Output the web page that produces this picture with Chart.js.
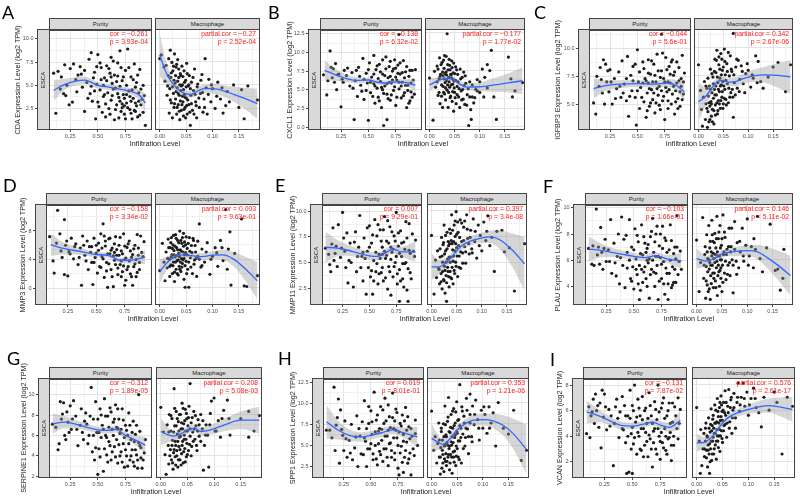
<!DOCTYPE html>
<html>
<head>
<meta charset="utf-8">
<script src="https://cdn.jsdelivr.net/npm/chart.js@4.4.0/dist/chart.umd.min.js"></script>
<style>
  body { margin:0; background:#fff; }
  #fig { position:relative; width:800px; height:498px; overflow:hidden; font-family:'Liberation Sans', Arial, sans-serif; }
  #fig canvas { position:absolute; }
  .strip { position:absolute; box-sizing:border-box; background:#d9d9d9; border:1px solid #444; color:#1a1a1a; font-size:6px; display:flex; align-items:center; justify-content:center; white-space:nowrap; }
  .strip span.rot { display:inline-block; transform:rotate(-90deg); }
  .lbl { position:absolute; white-space:nowrap; }
  .letter { font-family:Lato, 'Liberation Sans', sans-serif; font-size:18px; line-height:18px; color:#000; }
  .ytitle { font-size:7.2px; line-height:8px; height:8px; color:#222; text-align:center; transform:rotate(-90deg); }
  .xtitle { font-size:7.2px; line-height:8px; color:#222; text-align:center; }
  .stat { font-size:6.8px; line-height:7.4px; color:#ff1a1a; text-align:right; }
</style>
</head>
<body>
<div id="fig"></div>
<script>
// ---- data ----
const panelLetters = ['A','B','C','D','E','F','G','H','I'];
const geneNames = ['CDA','CXCL1','IGFBP3','MMP3','MMP11','PLAU','SERPINE1','SPP1','VCAN'];
const facetNames = ['Purity','Macrophage'];

const purityXTicks = ['0.25','0.50','0.75'];
const macrophageXTicks = ['0.00','0.05','0.10','0.15'];
const purityXRange = [0.058, 0.99];
const macrophageXRange = [-0.009, 0.19];

const yTickLabels = [
  ['2.5','5.0','7.5','10.0'],
  ['0.0','2.5','5.0','7.5','10.0','12.5'],
  ['5.0','7.5','10.0'],
  ['0','4','8'],
  ['2.5','5.0','7.5','10.0'],
  ['4','6','8','10'],
  ['2','4','6','8','10'],
  ['2.5','5.0','7.5','10.0','12.5'],
  ['2','4','6','8']
];
const yRanges = [[0.2,10.96],[-0.4,13.03],[2.66,11.7],[-2.37,11.67],[0.84,10.65],[2.58,10.23],[1.84,11.54],[1.14,12.89],[0.74,8.49]];

const corValues = ['\u22120.261','\u22120.138','\u22120.044','\u22120.158','0.007','\u22120.103','\u22120.312','0.019','\u22120.131'];
const corP = ['3.93e-04','6.32e-02','5.6e-01','3.34e-02','9.29e-01','1.66e-01','1.89e-05','8.01e-01','7.87e-02'];
const partialValues = ['\u22120.27','\u22120.177','0.342','0.003','0.397','0.146','0.208','0.353','0.576'];
const partialP = ['2.52e-04','1.77e-02','2.67e-06','9.63e-01','3.4e-08','5.11e-02','5.08e-03','1.21e-06','2.61e-17'];

// points [infiltration, expression]
const cdaPurity = [[0.10,6.3],[0.12,2.0],[0.14,6.5],[0.16,4.6],[0.17,5.9],[0.19,4.1],[0.20,7.2],[0.21,3.9],[0.22,5.0],[0.24,2.9],[0.25,6.8],[0.27,3.2],[0.28,7.3],[0.30,5.6],[0.32,6.1],[0.34,7.0],[0.36,4.8],[0.38,2.2],[0.38,6.6],[0.40,5.3],[0.42,7.8],[0.43,4.1],[0.44,8.5],[0.45,3.3],[0.47,6.4],[0.48,1.4],[0.49,5.1],[0.50,8.3],[0.51,2.7],[0.52,4.5],[0.53,6.9],[0.55,3.8],[0.56,5.8],[0.57,1.6],[0.58,7.1],[0.59,4.2],[0.60,2.5],[0.61,6.3],[0.62,3.4],[0.63,5.2],[0.64,7.6],[0.65,1.3],[0.66,4.7],[0.67,2.9],[0.68,6.0],[0.69,3.7],[0.70,8.7],[0.71,2.2],[0.72,5.5],[0.73,4.0],[0.74,1.9],[0.75,6.6],[0.76,3.1],[0.77,8.9],[0.78,4.4],[0.79,2.4],[0.80,5.9],[0.81,1.4],[0.82,3.6],[0.83,7.3],[0.84,4.8],[0.85,2.8],[0.86,6.1],[0.87,3.3],[0.88,1.8],[0.89,4.6],[0.91,2.1],[0.92,3.9],[0.93,0.7],[0.62,5.9],[0.68,4.1],[0.74,2.8],[0.55,5.0],[0.47,4.4],
  [0.46,5.8],[0.50,3.2],[0.52,7.4],[0.54,2.1],[0.56,4.0],[0.58,5.5],[0.60,6.8],[0.61,1.9],[0.63,3.9],[0.64,4.6],[0.65,6.1],[0.66,2.4],[0.67,5.4],[0.69,1.5],[0.70,4.9],[0.71,6.9],[0.72,3.0],[0.73,5.9],[0.74,3.6],[0.75,1.4],[0.76,5.0],[0.77,2.6],[0.78,6.9],[0.79,3.8],[0.80,2.0],[0.81,4.5],[0.82,5.6],[0.83,2.3],[0.84,3.1],[0.85,5.3],[0.86,1.6],[0.87,4.2],[0.88,6.7],[0.89,2.9],[0.90,3.5],[0.91,5.0],[0.57,3.0],[0.53,5.6],[0.49,7.0],[0.44,4.9],[0.41,3.6],[0.35,6.2],[0.31,4.3],[0.62,8.0],[0.68,7.4],[0.72,2.6],[0.76,4.0],[0.80,3.3],[0.84,2.2],[0.70,3.3]];
const cdaMacrophage = [[0.000,7.8],[0.003,8.2],[0.008,6.9],[0.010,5.4],[0.012,7.1],[0.014,3.9],[0.016,6.0],[0.018,2.0],[0.019,4.6],[0.020,8.7],[0.021,5.8],[0.022,3.1],[0.023,7.4],[0.024,1.5],[0.025,6.5],[0.026,4.1],[0.027,2.6],[0.028,8.3],[0.029,5.2],[0.030,3.5],[0.031,6.9],[0.032,1.9],[0.033,4.7],[0.034,7.7],[0.035,2.9],[0.036,5.8],[0.037,3.9],[0.038,1.3],[0.039,6.2],[0.040,4.4],[0.041,2.3],[0.042,7.0],[0.043,5.0],[0.044,3.2],[0.045,1.7],[0.046,6.5],[0.047,4.0],[0.048,2.6],[0.049,5.5],[0.050,3.6],[0.051,7.3],[0.052,1.9],[0.054,4.9],[0.055,2.9],[0.056,6.0],[0.058,0.7],[0.059,3.9],[0.060,5.3],[0.062,2.3],[0.064,4.4],[0.066,6.7],[0.068,3.2],[0.070,1.5],[0.072,5.1],[0.075,2.6],[0.077,4.1],[0.080,6.1],[0.082,2.1],[0.084,3.5],[0.086,7.8],[0.088,4.7],[0.090,1.9],[0.093,5.6],[0.097,3.2],[0.100,4.6],[0.105,2.5],[0.110,5.3],[0.115,3.5],[0.120,2.0],[0.128,4.3],[0.132,3.2],[0.140,5.0],[0.150,2.6],[0.160,1.4],[0.167,4.9],[0.185,3.4],[0.155,4.5],
  [0.015,4.9],[0.017,7.8],[0.020,3.4],[0.022,6.3],[0.024,4.8],[0.026,7.0],[0.027,5.5],[0.028,3.0],[0.030,6.0],[0.031,4.3],[0.032,7.2],[0.033,2.6],[0.034,5.4],[0.035,4.1],[0.036,6.7],[0.037,2.2],[0.038,5.0],[0.039,3.3],[0.040,6.0],[0.041,4.9],[0.042,2.9],[0.043,3.8],[0.044,5.9],[0.045,4.5],[0.046,2.4],[0.047,5.3],[0.048,3.7],[0.049,1.5],[0.050,4.8],[0.051,2.8],[0.052,6.2],[0.053,3.4],[0.055,5.0],[0.057,2.1],[0.058,4.6],[0.060,3.0],[0.063,5.8],[0.065,1.9],[0.067,4.0],[0.069,2.8],[0.071,4.8],[0.074,3.6],[0.078,5.5],[0.081,4.2],[0.085,2.6],[0.092,4.0],[0.098,5.0],[0.108,3.8],[0.118,4.7],[0.125,2.8]];
const cxcl1Purity = [[0.09,7.0],[0.12,4.3],[0.13,6.2],[0.15,10.2],[0.16,8.0],[0.18,7.8],[0.19,6.0],[0.20,8.5],[0.21,5.0],[0.23,7.1],[0.25,2.7],[0.26,6.4],[0.28,7.6],[0.30,6.9],[0.33,5.5],[0.35,7.3],[0.37,1.0],[0.38,6.2],[0.40,4.1],[0.41,8.0],[0.43,5.6],[0.45,9.2],[0.46,3.7],[0.48,7.2],[0.49,5.9],[0.50,0.9],[0.51,8.6],[0.52,4.6],[0.53,6.7],[0.55,9.6],[0.56,3.2],[0.57,7.7],[0.58,5.2],[0.59,4.0],[0.60,8.4],[0.61,6.1],[0.62,2.6],[0.63,7.1],[0.64,0.2],[0.65,5.5],[0.66,9.4],[0.67,1.0],[0.67,4.4],[0.68,6.6],[0.69,8.1],[0.70,3.6],[0.71,5.9],[0.72,7.5],[0.73,4.9],[0.74,9.0],[0.75,2.9],[0.76,6.3],[0.77,8.3],[0.78,12.4],[0.78,5.1],[0.79,7.1],[0.80,3.9],[0.81,6.0],[0.82,8.9],[0.83,4.6],[0.84,7.4],[0.85,2.6],[0.86,5.6],[0.87,6.8],[0.88,3.5],[0.89,4.7],[0.90,7.6],[0.92,4.4],[0.63,5.0],[0.70,6.8],[0.55,5.8],[0.75,7.9],
  [0.46,6.4],[0.48,4.9],[0.50,7.7],[0.52,6.0],[0.54,4.1],[0.55,7.1],[0.56,5.5],[0.58,8.2],[0.59,6.5],[0.60,3.5],[0.61,7.4],[0.62,5.3],[0.63,9.0],[0.64,4.5],[0.65,6.9],[0.66,7.8],[0.67,5.8],[0.68,3.8],[0.69,6.0],[0.70,8.8],[0.71,4.3],[0.72,6.3],[0.73,7.8],[0.74,5.4],[0.75,6.7],[0.76,4.0],[0.77,7.2],[0.78,6.0],[0.79,8.6],[0.80,5.5],[0.81,7.3],[0.82,4.2],[0.83,6.6],[0.84,5.6],[0.85,8.1],[0.86,4.9],[0.87,3.2],[0.88,7.6],[0.89,5.9],[0.90,4.0],[0.91,6.3],[0.93,7.7],[0.42,6.8],[0.44,4.8],[0.39,7.6],[0.36,5.2],[0.31,7.9],[0.27,6.0],[0.22,7.0],[0.17,6.6]];
const cxcl1Macrophage = [[0.000,6.5],[0.007,0.9],[0.010,7.4],[0.012,5.3],[0.015,8.1],[0.017,4.2],[0.019,6.4],[0.020,9.2],[0.021,3.1],[0.022,7.0],[0.024,5.6],[0.025,8.6],[0.026,2.6],[0.027,6.8],[0.028,4.6],[0.029,7.8],[0.030,9.5],[0.031,5.9],[0.032,3.6],[0.033,7.3],[0.034,6.2],[0.035,12.4],[0.035,4.9],[0.036,8.3],[0.037,2.6],[0.038,6.6],[0.039,9.0],[0.040,5.3],[0.041,7.6],[0.042,4.1],[0.043,6.9],[0.044,8.8],[0.045,3.4],[0.046,5.7],[0.047,7.2],[0.048,2.1],[0.049,6.1],[0.050,4.6],[0.052,8.0],[0.053,3.1],[0.055,5.4],[0.056,7.0],[0.058,4.0],[0.060,2.6],[0.062,6.4],[0.064,3.6],[0.066,5.0],[0.068,7.3],[0.070,3.0],[0.072,5.8],[0.075,4.3],[0.078,0.2],[0.080,6.0],[0.082,2.3],[0.083,1.0],[0.085,4.0],[0.088,3.2],[0.092,5.0],[0.095,6.3],[0.100,4.6],[0.105,7.7],[0.108,4.0],[0.110,6.6],[0.115,8.3],[0.120,7.5],[0.123,10.2],[0.128,4.0],[0.133,1.0],[0.157,9.3],[0.162,6.4],[0.165,4.0],[0.170,4.8],[0.185,5.9],
  [0.015,6.0],[0.017,7.7],[0.019,4.6],[0.021,6.7],[0.023,8.3],[0.024,4.1],[0.026,7.3],[0.027,5.4],[0.028,8.9],[0.029,6.4],[0.030,4.4],[0.031,7.1],[0.032,5.2],[0.033,9.4],[0.034,6.9],[0.036,5.6],[0.037,7.6],[0.038,4.6],[0.039,6.0],[0.040,8.2],[0.041,3.9],[0.042,7.0],[0.043,5.6],[0.044,6.5],[0.045,7.9],[0.046,4.7],[0.047,6.3],[0.048,8.5],[0.049,5.2],[0.050,7.1],[0.051,3.9],[0.052,6.2],[0.054,7.6],[0.055,4.3],[0.057,6.0],[0.059,5.1],[0.061,7.7],[0.063,4.8],[0.065,6.6],[0.067,3.7],[0.069,5.5],[0.071,6.8],[0.074,2.9],[0.077,5.1],[0.080,4.0],[0.085,5.6],[0.090,3.9],[0.095,4.8],[0.100,6.0],[0.115,5.2]];
const igfbp3Purity = [[0.10,5.1],[0.12,4.1],[0.13,7.5],[0.15,6.6],[0.16,8.3],[0.18,6.0],[0.19,9.0],[0.20,5.0],[0.21,8.6],[0.22,7.0],[0.24,6.1],[0.25,8.1],[0.27,5.0],[0.29,7.3],[0.31,6.4],[0.33,7.9],[0.35,5.6],[0.36,8.9],[0.38,6.8],[0.40,5.3],[0.41,9.3],[0.42,3.9],[0.44,7.6],[0.45,6.2],[0.46,8.4],[0.48,5.6],[0.49,3.1],[0.50,9.9],[0.51,7.0],[0.52,4.6],[0.53,6.5],[0.55,8.8],[0.56,5.2],[0.57,7.3],[0.58,3.8],[0.59,6.0],[0.60,9.0],[0.61,4.8],[0.62,7.7],[0.63,6.3],[0.64,5.4],[0.65,8.6],[0.66,4.2],[0.67,7.0],[0.68,9.5],[0.69,5.8],[0.70,6.6],[0.71,4.5],[0.72,11.3],[0.72,8.0],[0.73,5.3],[0.74,7.3],[0.75,3.6],[0.76,9.2],[0.77,6.1],[0.78,4.6],[0.79,8.4],[0.80,6.9],[0.81,5.0],[0.82,9.0],[0.83,7.6],[0.84,4.1],[0.85,6.2],[0.86,8.8],[0.87,5.5],[0.88,7.1],[0.89,4.8],[0.90,6.6],[0.91,9.4],[0.92,5.9],[0.93,7.8],[0.60,6.9],[0.78,7.0],
  [0.46,7.1],[0.48,8.6],[0.50,6.2],[0.52,7.9],[0.54,5.6],[0.55,6.9],[0.56,8.2],[0.58,7.1],[0.59,4.4],[0.60,7.8],[0.61,6.4],[0.62,5.1],[0.63,8.9],[0.64,7.0],[0.65,6.0],[0.66,7.6],[0.67,5.1],[0.68,6.4],[0.69,8.0],[0.70,4.9],[0.71,7.4],[0.72,6.2],[0.73,9.6],[0.74,5.7],[0.75,7.0],[0.76,6.5],[0.77,8.1],[0.78,5.3],[0.79,6.3],[0.80,7.7],[0.81,8.8],[0.82,5.9],[0.83,6.6],[0.84,7.9],[0.85,5.2],[0.86,6.9],[0.87,4.6],[0.88,8.3],[0.89,6.1],[0.90,7.3],[0.91,5.4],[0.92,7.0],[0.43,5.7],[0.40,7.3],[0.37,6.0],[0.34,6.6],[0.30,5.5],[0.26,7.0],[0.23,8.0],[0.17,7.2]];
const igfbp3Macrophage = [[0.000,8.5],[0.004,6.2],[0.006,4.5],[0.008,3.0],[0.010,5.6],[0.012,7.0],[0.014,3.6],[0.015,5.0],[0.017,6.4],[0.018,2.9],[0.019,4.3],[0.020,5.7],[0.021,3.4],[0.022,6.6],[0.023,4.8],[0.024,8.1],[0.025,5.2],[0.026,3.9],[0.027,6.0],[0.028,4.5],[0.029,7.4],[0.030,5.5],[0.031,3.2],[0.032,6.3],[0.033,9.0],[0.034,4.9],[0.035,7.8],[0.036,5.8],[0.037,9.8],[0.038,4.1],[0.039,6.9],[0.040,5.3],[0.041,8.5],[0.042,6.1],[0.043,7.3],[0.044,4.6],[0.045,9.5],[0.046,6.7],[0.047,5.6],[0.048,8.0],[0.049,7.0],[0.050,5.0],[0.052,9.9],[0.053,6.3],[0.054,7.6],[0.055,5.4],[0.057,8.6],[0.058,6.8],[0.060,5.1],[0.062,7.5],[0.064,9.3],[0.065,6.0],[0.067,7.9],[0.069,5.6],[0.070,11.3],[0.070,3.8],[0.072,6.9],[0.075,8.3],[0.078,6.4],[0.080,8.9],[0.083,7.2],[0.086,8.4],[0.090,6.8],[0.095,7.7],[0.100,8.0],[0.105,6.5],[0.110,7.3],[0.115,9.3],[0.120,8.8],[0.125,7.0],[0.130,6.4],[0.140,7.4],[0.150,8.3],[0.160,8.7],[0.175,6.1],[0.185,8.5],
  [0.015,6.6],[0.017,4.6],[0.019,7.3],[0.021,5.1],[0.023,3.6],[0.024,6.3],[0.026,5.0],[0.027,7.7],[0.028,3.4],[0.030,6.8],[0.031,4.4],[0.032,7.9],[0.033,5.8],[0.034,4.0],[0.035,6.6],[0.036,8.9],[0.037,5.1],[0.038,7.4],[0.039,4.4],[0.040,6.3],[0.041,9.2],[0.042,5.0],[0.043,8.1],[0.044,6.6],[0.045,5.3],[0.046,7.6],[0.047,9.0],[0.048,6.1],[0.049,4.6],[0.050,8.3],[0.051,6.6],[0.052,5.5],[0.053,8.8],[0.055,7.1],[0.056,4.9],[0.058,7.9],[0.060,9.6],[0.061,6.4],[0.063,5.6],[0.066,8.1],[0.068,6.3],[0.071,7.6],[0.074,5.8],[0.077,9.0],[0.082,6.1],[0.088,7.9],[0.093,6.0],[0.098,8.6],[0.108,7.6],[0.118,6.9]];
const mmp3Purity = [[0.09,7.2],[0.12,3.8],[0.13,2.1],[0.15,6.3],[0.16,10.9],[0.18,7.6],[0.20,4.3],[0.22,9.6],[0.22,1.9],[0.23,6.0],[0.25,1.7],[0.26,5.1],[0.28,7.0],[0.30,4.1],[0.32,6.2],[0.34,3.3],[0.36,5.6],[0.37,0.4],[0.38,7.3],[0.40,4.6],[0.42,6.6],[0.43,2.6],[0.45,5.0],[0.46,3.6],[0.47,0.5],[0.48,7.0],[0.49,4.3],[0.50,6.0],[0.51,2.1],[0.52,5.3],[0.53,3.0],[0.54,7.6],[0.55,4.4],[0.56,9.0],[0.57,1.5],[0.58,5.9],[0.59,3.6],[0.60,0.1],[0.61,6.9],[0.62,4.8],[0.63,2.6],[0.64,5.6],[0.65,0.2],[0.66,3.9],[0.67,7.2],[0.68,4.6],[0.69,1.9],[0.70,6.0],[0.71,3.3],[0.72,5.2],[0.73,2.3],[0.74,7.6],[0.75,4.0],[0.76,1.1],[0.77,5.7],[0.78,3.0],[0.79,6.6],[0.80,2.0],[0.81,4.3],[0.82,0.4],[0.83,5.5],[0.84,3.4],[0.85,1.6],[0.86,7.5],[0.87,4.6],[0.88,2.6],[0.90,5.0],[0.92,6.5],[0.66,5.0],[0.72,3.8],
  [0.46,5.8],[0.48,3.6],[0.50,4.9],[0.52,6.3],[0.54,2.9],[0.55,5.6],[0.56,4.1],[0.58,6.6],[0.59,2.4],[0.60,4.8],[0.61,3.4],[0.62,7.0],[0.63,5.3],[0.64,1.6],[0.65,4.5],[0.66,6.2],[0.67,3.3],[0.68,5.4],[0.69,2.8],[0.70,4.6],[0.71,7.1],[0.72,1.6],[0.73,4.8],[0.74,3.1],[0.75,5.9],[0.76,4.2],[0.77,2.6],[0.78,6.2],[0.79,3.8],[0.80,5.2],[0.81,1.6],[0.82,4.7],[0.83,3.0],[0.84,6.0],[0.85,4.0],[0.86,2.2],[0.87,5.6],[0.88,3.6],[0.89,7.3],[0.91,4.4],[0.44,5.8],[0.41,3.8],[0.39,6.0],[0.35,4.3],[0.31,5.8],[0.27,4.8],[0.24,6.6],[0.19,5.2],[0.57,7.3],[0.75,0.4]];
const mmp3Macrophage = [[0.000,2.4],[0.005,6.2],[0.008,3.6],[0.010,1.0],[0.012,5.0],[0.014,2.8],[0.016,6.8],[0.018,4.0],[0.019,1.6],[0.020,5.6],[0.021,3.2],[0.022,7.0],[0.023,4.6],[0.024,2.0],[0.025,6.0],[0.026,3.6],[0.027,5.2],[0.028,0.9],[0.029,4.3],[0.030,7.4],[0.031,2.6],[0.032,5.6],[0.033,3.8],[0.034,6.6],[0.035,1.8],[0.036,4.8],[0.037,3.0],[0.038,7.9],[0.039,5.3],[0.040,2.3],[0.041,4.1],[0.042,6.2],[0.043,3.4],[0.044,5.0],[0.045,7.6],[0.046,1.2],[0.047,4.6],[0.048,0.1],[0.049,6.0],[0.050,3.7],[0.052,5.5],[0.053,2.6],[0.055,0.1],[0.056,7.0],[0.058,4.2],[0.060,5.9],[0.062,2.0],[0.064,6.6],[0.066,3.9],[0.068,5.0],[0.070,1.6],[0.072,4.4],[0.075,8.9],[0.078,2.9],[0.080,5.4],[0.085,3.6],[0.090,6.3],[0.095,1.9],[0.100,4.4],[0.105,5.6],[0.110,3.0],[0.115,6.6],[0.120,3.8],[0.125,10.9],[0.128,2.6],[0.130,5.4],[0.133,7.8],[0.135,0.4],[0.142,4.8],[0.155,9.6],[0.160,0.3],[0.165,0.2],[0.185,1.7],
  [0.015,4.1],[0.017,5.6],[0.019,3.0],[0.021,6.3],[0.022,4.3],[0.024,5.5],[0.025,3.1],[0.026,7.3],[0.027,4.6],[0.028,2.2],[0.029,5.8],[0.030,3.6],[0.031,6.9],[0.032,4.5],[0.033,2.0],[0.034,5.3],[0.035,3.9],[0.036,6.3],[0.037,4.4],[0.038,2.6],[0.039,3.6],[0.040,6.6],[0.041,5.1],[0.042,2.9],[0.043,7.0],[0.044,3.9],[0.045,5.8],[0.046,4.1],[0.047,6.4],[0.048,3.1],[0.049,4.9],[0.050,7.1],[0.051,2.0],[0.052,4.6],[0.054,6.2],[0.055,3.6],[0.057,5.1],[0.059,2.9],[0.061,4.9],[0.063,6.9],[0.065,3.3],[0.067,5.9],[0.069,4.1],[0.072,6.5],[0.075,4.0],[0.080,3.1],[0.088,5.0],[0.097,4.0],[0.108,4.9],[0.118,5.6]];
const mmp11Purity = [[0.09,6.4],[0.12,5.8],[0.13,4.8],[0.14,4.1],[0.16,8.4],[0.17,5.2],[0.19,6.6],[0.20,4.6],[0.21,8.7],[0.23,5.5],[0.25,9.9],[0.26,7.4],[0.27,6.1],[0.28,4.5],[0.30,3.0],[0.32,6.9],[0.33,5.0],[0.35,2.6],[0.37,8.0],[0.38,4.1],[0.40,6.5],[0.41,9.6],[0.43,5.6],[0.44,3.2],[0.45,7.4],[0.47,1.9],[0.48,6.1],[0.49,4.5],[0.50,8.6],[0.51,3.6],[0.52,6.9],[0.53,1.9],[0.54,5.2],[0.55,9.2],[0.56,4.1],[0.57,7.6],[0.58,2.9],[0.59,5.8],[0.60,8.2],[0.61,4.0],[0.62,6.5],[0.63,3.2],[0.64,9.5],[0.65,5.4],[0.66,7.1],[0.67,2.4],[0.68,4.6],[0.69,8.5],[0.70,1.8],[0.71,6.0],[0.72,3.6],[0.73,7.6],[0.74,5.0],[0.75,9.9],[0.76,2.9],[0.77,6.6],[0.78,1.2],[0.78,4.3],[0.79,8.1],[0.80,5.6],[0.81,3.4],[0.82,7.0],[0.83,4.9],[0.84,9.0],[0.85,2.3],[0.86,1.2],[0.87,6.2],[0.88,4.0],[0.90,7.8],[0.92,5.6],[0.93,7.2],[0.62,5.8],[0.70,6.5],
  [0.46,5.4],[0.48,8.4],[0.50,6.5],[0.52,4.2],[0.53,7.7],[0.54,3.2],[0.56,6.0],[0.57,4.9],[0.58,8.7],[0.59,3.9],[0.60,5.4],[0.61,7.1],[0.62,4.5],[0.63,8.2],[0.64,6.1],[0.65,3.5],[0.66,5.7],[0.67,9.1],[0.68,6.9],[0.69,4.1],[0.70,5.3],[0.71,8.0],[0.72,6.3],[0.73,4.6],[0.74,7.1],[0.75,5.6],[0.76,3.9],[0.77,7.9],[0.78,5.9],[0.79,3.2],[0.80,6.9],[0.81,4.9],[0.82,2.6],[0.83,6.3],[0.84,5.0],[0.85,7.4],[0.86,4.4],[0.87,8.8],[0.88,5.9],[0.89,3.4],[0.91,6.1],[0.44,6.0],[0.42,4.5],[0.39,5.6],[0.36,7.0],[0.31,5.2],[0.29,7.9],[0.24,6.4],[0.18,5.9],[0.15,6.8]];
const mmp11Macrophage = [[0.000,7.6],[0.005,1.9],[0.008,5.2],[0.010,3.5],[0.012,6.1],[0.014,4.4],[0.016,2.9],[0.017,5.5],[0.019,3.9],[0.020,7.4],[0.021,2.4],[0.022,5.0],[0.023,6.7],[0.024,3.3],[0.025,8.6],[0.026,4.6],[0.027,2.0],[0.028,6.1],[0.029,3.7],[0.030,1.2],[0.031,7.9],[0.032,5.3],[0.033,4.1],[0.034,6.6],[0.035,2.6],[0.036,8.2],[0.037,5.0],[0.038,3.5],[0.039,7.1],[0.040,9.6],[0.041,4.5],[0.042,6.2],[0.043,2.9],[0.044,5.6],[0.045,8.6],[0.046,3.9],[0.047,7.5],[0.048,5.0],[0.049,9.9],[0.050,6.4],[0.052,3.6],[0.053,7.9],[0.055,5.6],[0.057,9.1],[0.058,4.4],[0.060,7.0],[0.062,5.9],[0.064,8.4],[0.066,6.5],[0.068,4.9],[0.070,9.6],[0.072,7.3],[0.075,5.8],[0.078,8.1],[0.080,6.3],[0.083,9.2],[0.086,7.0],[0.090,5.4],[0.093,8.6],[0.097,7.6],[0.100,6.1],[0.104,8.9],[0.108,7.1],[0.112,9.5],[0.116,6.6],[0.120,7.4],[0.125,4.1],[0.130,8.0],[0.140,8.1],[0.145,6.0],[0.155,6.4],[0.165,2.2],[0.185,6.8],
  [0.015,4.3],[0.017,6.3],[0.019,3.1],[0.021,5.6],[0.022,4.1],[0.024,6.9],[0.025,3.2],[0.026,5.8],[0.027,4.2],[0.028,7.6],[0.029,5.0],[0.030,3.0],[0.031,6.3],[0.032,4.5],[0.033,7.0],[0.034,3.6],[0.035,5.5],[0.036,6.8],[0.037,4.1],[0.038,7.8],[0.039,5.5],[0.040,3.4],[0.041,6.8],[0.042,8.1],[0.043,5.1],[0.044,7.0],[0.045,4.2],[0.046,6.1],[0.047,9.0],[0.048,6.8],[0.049,4.6],[0.050,7.7],[0.051,5.6],[0.052,8.9],[0.054,6.6],[0.055,4.5],[0.056,7.4],[0.058,6.0],[0.060,8.8],[0.062,4.9],[0.064,7.1],[0.066,9.0],[0.068,6.0],[0.071,8.2],[0.074,6.8],[0.077,7.4],[0.081,5.9],[0.087,8.0],[0.095,6.6],[0.110,8.0]];
const plauPurity = [[0.09,6.9],[0.12,5.7],[0.13,7.1],[0.14,5.6],[0.16,9.9],[0.17,6.4],[0.19,5.7],[0.20,8.5],[0.21,6.6],[0.22,5.3],[0.24,7.6],[0.25,5.9],[0.27,6.8],[0.29,9.1],[0.30,5.0],[0.32,7.3],[0.34,4.8],[0.35,6.3],[0.37,4.2],[0.39,9.3],[0.40,5.6],[0.41,7.6],[0.42,3.9],[0.44,6.6],[0.46,9.1],[0.47,4.6],[0.48,7.0],[0.49,5.5],[0.50,3.8],[0.51,8.4],[0.52,6.1],[0.53,4.9],[0.54,7.4],[0.55,5.6],[0.56,3.7],[0.57,8.7],[0.58,6.4],[0.59,5.1],[0.60,7.3],[0.61,4.6],[0.62,6.9],[0.63,5.8],[0.64,3.1],[0.65,7.8],[0.66,5.3],[0.67,9.2],[0.68,6.6],[0.69,4.0],[0.70,8.0],[0.71,5.6],[0.72,3.0],[0.73,7.1],[0.74,6.2],[0.75,4.6],[0.76,8.6],[0.77,5.9],[0.78,3.4],[0.79,7.5],[0.80,5.0],[0.81,4.2],[0.82,6.8],[0.83,8.7],[0.84,3.9],[0.85,5.5],[0.86,4.3],[0.87,7.0],[0.88,6.1],[0.89,9.4],[0.90,4.9],[0.92,6.7],[0.93,5.3],[0.70,6.3],[0.62,6.0],
  [0.46,6.0],[0.48,4.4],[0.50,6.8],[0.52,5.3],[0.53,7.9],[0.54,4.2],[0.56,6.5],[0.57,5.3],[0.58,4.3],[0.59,7.8],[0.60,5.5],[0.61,6.6],[0.62,4.0],[0.63,7.2],[0.64,6.1],[0.65,4.9],[0.66,8.2],[0.67,6.0],[0.68,5.1],[0.69,7.4],[0.70,5.0],[0.71,8.6],[0.72,6.3],[0.73,4.4],[0.74,8.0],[0.75,5.7],[0.76,6.9],[0.77,4.2],[0.78,7.7],[0.79,5.4],[0.80,6.6],[0.81,3.0],[0.82,5.0],[0.83,6.0],[0.84,7.5],[0.85,4.1],[0.86,6.5],[0.87,5.3],[0.88,4.3],[0.89,7.0],[0.91,5.9],[0.44,5.4],[0.43,7.9],[0.38,6.2],[0.36,8.0],[0.33,5.8],[0.28,5.9],[0.23,6.9],[0.18,7.0],[0.55,3.0]];
const plauMacrophage = [[0.000,7.5],[0.005,3.6],[0.008,5.8],[0.012,9.2],[0.014,4.6],[0.016,6.4],[0.018,3.1],[0.019,5.5],[0.020,7.9],[0.021,4.1],[0.022,6.1],[0.023,3.6],[0.024,8.6],[0.025,5.3],[0.026,6.9],[0.027,3.0],[0.028,4.8],[0.029,6.6],[0.030,9.0],[0.031,5.6],[0.032,7.4],[0.033,3.9],[0.034,6.1],[0.035,5.0],[0.036,8.0],[0.037,4.4],[0.038,6.9],[0.039,5.4],[0.040,9.3],[0.041,3.3],[0.042,6.3],[0.043,7.6],[0.044,5.1],[0.045,4.0],[0.046,8.6],[0.047,6.0],[0.048,5.4],[0.049,7.1],[0.050,3.6],[0.052,9.4],[0.053,6.4],[0.055,5.0],[0.056,7.7],[0.058,4.5],[0.060,6.8],[0.062,5.6],[0.064,8.4],[0.066,4.8],[0.068,7.0],[0.070,6.0],[0.072,3.5],[0.075,8.9],[0.078,5.9],[0.080,7.3],[0.083,5.4],[0.086,6.6],[0.090,8.4],[0.093,5.9],[0.097,7.1],[0.100,9.1],[0.104,6.3],[0.108,7.0],[0.112,5.4],[0.116,6.8],[0.120,9.3],[0.125,6.1],[0.130,5.1],[0.138,6.9],[0.145,8.7],[0.155,5.2],[0.160,5.3],[0.165,3.7],[0.170,4.6],[0.172,6.8],
  [0.015,5.6],[0.017,7.0],[0.019,4.4],[0.021,6.6],[0.022,5.1],[0.024,6.0],[0.025,3.8],[0.026,5.8],[0.027,7.4],[0.028,5.6],[0.029,4.2],[0.030,6.3],[0.031,7.9],[0.032,5.0],[0.033,6.5],[0.034,4.6],[0.035,7.3],[0.036,5.8],[0.037,6.4],[0.038,3.9],[0.039,7.6],[0.040,5.9],[0.041,6.6],[0.042,4.8],[0.043,5.6],[0.044,8.1],[0.045,6.3],[0.046,5.2],[0.047,6.9],[0.048,4.6],[0.049,6.0],[0.050,7.6],[0.051,5.6],[0.052,4.3],[0.054,6.6],[0.055,8.1],[0.057,5.9],[0.059,6.4],[0.061,4.9],[0.063,7.0],[0.065,5.8],[0.067,6.6],[0.069,8.4],[0.072,5.6],[0.075,6.8],[0.079,4.9],[0.085,7.4],[0.092,6.3],[0.102,5.6],[0.113,7.6]];
const serpine1Purity = [[0.09,7.1],[0.12,6.8],[0.14,4.6],[0.15,5.2],[0.16,9.3],[0.17,7.6],[0.19,9.2],[0.20,6.0],[0.21,5.6],[0.22,8.3],[0.23,7.3],[0.25,8.9],[0.26,6.6],[0.28,9.4],[0.30,7.9],[0.32,5.0],[0.34,7.0],[0.36,6.3],[0.37,5.6],[0.39,8.2],[0.40,7.1],[0.42,6.0],[0.44,10.7],[0.45,4.4],[0.46,7.6],[0.47,3.6],[0.48,9.3],[0.49,6.3],[0.50,2.2],[0.51,4.7],[0.52,8.6],[0.53,5.8],[0.54,7.0],[0.55,2.5],[0.56,9.6],[0.57,6.0],[0.58,4.1],[0.59,7.9],[0.60,5.4],[0.61,8.7],[0.62,3.6],[0.63,6.6],[0.64,7.3],[0.65,4.9],[0.66,9.0],[0.67,5.6],[0.68,3.3],[0.69,7.6],[0.70,6.2],[0.71,4.4],[0.72,8.6],[0.73,5.2],[0.74,2.9],[0.75,7.0],[0.76,4.0],[0.77,6.0],[0.78,8.2],[0.79,3.6],[0.80,5.6],[0.81,4.6],[0.82,7.4],[0.83,3.0],[0.84,6.1],[0.85,4.1],[0.86,2.8],[0.87,10.0],[0.88,5.0],[0.89,3.8],[0.90,2.8],[0.92,4.3],[0.93,5.6],[0.68,6.7],
  [0.46,6.0],[0.48,4.8],[0.50,7.6],[0.51,6.3],[0.52,3.9],[0.53,8.0],[0.55,6.6],[0.56,4.7],[0.57,7.9],[0.58,5.8],[0.59,3.4],[0.60,6.8],[0.61,5.0],[0.62,8.3],[0.63,4.4],[0.64,6.0],[0.65,7.6],[0.66,3.9],[0.67,6.8],[0.68,8.6],[0.69,5.1],[0.70,4.0],[0.71,6.6],[0.72,3.4],[0.73,7.5],[0.74,5.8],[0.75,4.6],[0.76,6.5],[0.77,3.0],[0.78,5.2],[0.79,7.0],[0.80,4.0],[0.81,6.3],[0.82,3.4],[0.83,5.4],[0.84,4.6],[0.85,7.0],[0.86,3.6],[0.87,5.3],[0.88,6.4],[0.89,4.8],[0.91,3.6],[0.43,7.9],[0.41,5.2],[0.38,7.4],[0.35,8.6],[0.31,6.6],[0.27,7.6],[0.24,6.3],[0.18,8.1]];
const serpine1Macrophage = [[0.000,8.7],[0.005,6.3],[0.008,4.1],[0.010,2.2],[0.012,7.0],[0.014,5.0],[0.015,3.2],[0.016,8.0],[0.018,4.6],[0.019,6.4],[0.020,3.6],[0.021,7.6],[0.022,5.5],[0.023,2.7],[0.024,4.3],[0.025,10.5],[0.026,6.9],[0.027,3.9],[0.028,5.0],[0.029,8.3],[0.030,4.5],[0.031,6.1],[0.032,2.9],[0.033,7.3],[0.034,4.9],[0.035,5.8],[0.036,3.6],[0.037,8.0],[0.038,6.6],[0.039,4.2],[0.040,9.1],[0.041,5.4],[0.042,3.3],[0.043,7.1],[0.044,6.0],[0.045,4.7],[0.046,8.5],[0.047,5.6],[0.048,3.9],[0.049,7.6],[0.050,6.4],[0.052,4.5],[0.053,8.8],[0.055,11.0],[0.055,5.9],[0.057,7.2],[0.058,4.9],[0.060,6.3],[0.062,8.3],[0.064,5.6],[0.066,6.9],[0.068,4.5],[0.070,7.5],[0.072,5.9],[0.075,8.0],[0.078,6.6],[0.080,2.6],[0.082,5.0],[0.085,7.0],[0.088,6.0],[0.090,2.9],[0.093,8.1],[0.095,9.3],[0.100,9.6],[0.104,6.4],[0.108,7.4],[0.112,5.8],[0.118,8.4],[0.125,9.4],[0.128,7.6],[0.130,6.0],[0.150,7.6],[0.165,5.8],[0.165,8.3],[0.175,6.4],[0.185,7.9],
  [0.015,6.3],[0.017,4.0],[0.019,7.9],[0.021,5.0],[0.022,3.3],[0.024,6.3],[0.025,4.6],[0.026,8.6],[0.027,5.4],[0.028,3.1],[0.029,6.9],[0.030,4.0],[0.031,7.6],[0.032,5.4],[0.033,3.6],[0.034,6.4],[0.035,8.0],[0.036,4.6],[0.037,5.9],[0.038,3.1],[0.039,7.2],[0.040,5.0],[0.041,6.6],[0.042,8.6],[0.043,4.4],[0.044,5.6],[0.045,7.4],[0.046,3.4],[0.047,6.4],[0.048,8.1],[0.049,5.2],[0.050,4.1],[0.051,6.9],[0.052,7.7],[0.054,5.1],[0.055,6.6],[0.057,4.0],[0.059,7.7],[0.061,5.4],[0.063,6.6],[0.065,7.9],[0.067,5.0],[0.069,6.4],[0.072,7.0],[0.075,5.4],[0.079,7.4],[0.084,6.0],[0.092,7.0],[0.102,6.4],[0.115,7.6]];
const spp1Purity = [[0.09,6.8],[0.12,6.8],[0.14,5.9],[0.16,11.9],[0.17,4.4],[0.19,8.3],[0.20,10.5],[0.21,2.9],[0.22,9.2],[0.23,6.9],[0.25,4.4],[0.26,7.9],[0.28,3.6],[0.30,5.6],[0.32,7.5],[0.33,3.3],[0.35,4.7],[0.37,8.5],[0.38,2.5],[0.40,6.1],[0.42,7.8],[0.43,3.9],[0.44,10.3],[0.45,5.5],[0.46,2.5],[0.48,7.6],[0.49,4.6],[0.50,9.1],[0.51,6.3],[0.52,3.3],[0.53,11.3],[0.54,5.0],[0.55,8.0],[0.56,2.7],[0.57,6.7],[0.58,4.3],[0.59,9.6],[0.60,5.6],[0.61,3.1],[0.62,7.6],[0.63,10.6],[0.64,4.6],[0.65,6.1],[0.66,2.6],[0.67,8.4],[0.68,5.3],[0.69,3.6],[0.70,11.2],[0.71,7.0],[0.72,4.1],[0.73,9.3],[0.74,5.9],[0.75,2.3],[0.76,1.5],[0.77,7.6],[0.78,4.9],[0.79,8.6],[0.80,1.8],[0.80,6.3],[0.81,3.6],[0.82,9.5],[0.83,5.4],[0.84,2.9],[0.85,7.2],[0.86,4.1],[0.87,1.5],[0.88,6.1],[0.90,3.8],[0.91,8.0],[0.93,5.0],[0.66,6.8],[0.72,7.9],
  [0.46,7.0],[0.47,4.6],[0.48,9.6],[0.50,5.2],[0.51,7.8],[0.52,4.0],[0.54,6.6],[0.55,3.4],[0.56,8.6],[0.57,5.2],[0.58,7.0],[0.59,3.9],[0.60,6.9],[0.61,9.2],[0.62,4.6],[0.63,6.1],[0.64,7.9],[0.65,3.6],[0.66,9.8],[0.67,5.2],[0.68,7.1],[0.69,4.4],[0.70,8.3],[0.71,5.9],[0.72,3.3],[0.73,6.8],[0.74,8.9],[0.75,5.0],[0.76,6.6],[0.77,4.1],[0.78,7.3],[0.79,3.0],[0.80,5.5],[0.81,7.9],[0.82,4.4],[0.83,6.8],[0.84,8.4],[0.85,3.4],[0.86,5.8],[0.87,7.0],[0.89,4.6],[0.91,6.4],[0.44,5.9],[0.41,4.0],[0.39,7.0],[0.36,6.0],[0.31,4.1],[0.27,5.8],[0.24,6.2],[0.18,7.4]];
const spp1Macrophage = [[0.000,9.0],[0.004,4.4],[0.007,6.0],[0.010,2.9],[0.012,5.2],[0.014,7.6],[0.015,3.6],[0.017,1.6],[0.018,4.7],[0.019,6.6],[0.020,2.3],[0.021,5.6],[0.022,3.9],[0.023,7.5],[0.024,1.9],[0.025,4.9],[0.026,9.6],[0.027,3.1],[0.028,6.2],[0.029,2.6],[0.030,5.3],[0.031,7.8],[0.032,3.6],[0.033,10.6],[0.034,4.6],[0.035,2.1],[0.036,6.5],[0.037,3.9],[0.038,8.6],[0.039,5.0],[0.040,1.7],[0.041,7.0],[0.042,4.2],[0.043,9.3],[0.044,3.0],[0.045,5.9],[0.046,7.6],[0.047,2.6],[0.048,4.9],[0.049,10.1],[0.050,6.4],[0.052,3.6],[0.053,8.0],[0.055,12.1],[0.055,5.5],[0.057,7.0],[0.058,2.9],[0.060,9.0],[0.062,4.6],[0.064,7.6],[0.066,5.9],[0.068,10.5],[0.070,6.9],[0.072,4.0],[0.075,11.0],[0.075,8.6],[0.078,6.0],[0.080,9.6],[0.083,7.4],[0.086,10.3],[0.090,8.0],[0.093,5.6],[0.097,9.1],[0.100,7.0],[0.104,8.6],[0.108,6.4],[0.112,9.5],[0.116,7.6],[0.120,8.8],[0.125,4.9],[0.130,10.0],[0.140,7.0],[0.150,6.3],[0.160,9.1],[0.175,3.2],[0.185,4.4],
  [0.015,5.6],[0.017,3.6],[0.019,7.0],[0.021,4.4],[0.022,2.9],[0.024,6.0],[0.025,3.4],[0.026,5.0],[0.027,7.4],[0.028,4.0],[0.029,6.0],[0.030,3.1],[0.031,5.0],[0.032,8.3],[0.033,3.9],[0.034,6.6],[0.035,4.9],[0.036,2.9],[0.037,7.1],[0.038,5.4],[0.039,3.6],[0.040,6.0],[0.041,9.0],[0.042,5.3],[0.043,3.6],[0.044,7.3],[0.045,4.3],[0.046,6.2],[0.047,8.9],[0.048,3.7],[0.049,6.6],[0.050,4.6],[0.051,7.9],[0.052,5.5],[0.054,3.3],[0.055,7.3],[0.057,5.9],[0.059,9.5],[0.061,6.3],[0.063,8.4],[0.065,4.9],[0.067,7.0],[0.069,9.1],[0.072,6.0],[0.075,7.6],[0.079,5.4],[0.084,8.6],[0.092,7.0],[0.102,9.5],[0.113,7.0]];
const vcanPurity = [[0.09,4.2],[0.11,6.3],[0.12,3.9],[0.13,5.6],[0.15,6.9],[0.16,5.0],[0.17,7.3],[0.18,6.0],[0.20,4.7],[0.21,6.6],[0.22,3.1],[0.23,7.6],[0.24,5.5],[0.25,7.3],[0.27,4.5],[0.29,6.1],[0.31,5.6],[0.33,1.7],[0.34,5.0],[0.36,6.9],[0.38,3.9],[0.39,5.9],[0.41,7.1],[0.42,4.5],[0.43,6.4],[0.44,3.5],[0.45,1.1],[0.46,5.6],[0.47,1.2],[0.48,7.6],[0.49,4.2],[0.50,1.1],[0.50,6.4],[0.51,3.4],[0.52,8.0],[0.53,5.1],[0.54,2.6],[0.55,6.9],[0.56,4.0],[0.57,5.6],[0.58,2.9],[0.59,7.1],[0.60,4.6],[0.61,3.3],[0.62,6.2],[0.63,5.0],[0.64,2.4],[0.65,7.4],[0.66,3.8],[0.67,5.6],[0.68,1.6],[0.69,4.4],[0.70,6.7],[0.71,3.0],[0.72,5.3],[0.73,8.0],[0.74,4.0],[0.75,2.2],[0.76,6.2],[0.77,3.5],[0.78,7.0],[0.79,4.6],[0.80,2.9],[0.81,5.6],[0.82,3.8],[0.83,6.6],[0.84,4.3],[0.85,2.1],[0.86,5.1],[0.87,3.3],[0.88,6.3],[0.90,4.6],[0.91,7.0],[0.92,5.0],[0.93,6.1],
  [0.46,4.0],[0.48,5.4],[0.49,3.0],[0.50,4.7],[0.51,6.0],[0.52,3.9],[0.54,5.5],[0.55,4.3],[0.56,6.2],[0.57,3.0],[0.58,4.6],[0.59,5.3],[0.60,2.4],[0.61,6.0],[0.62,4.3],[0.63,3.6],[0.64,5.4],[0.65,4.1],[0.66,6.4],[0.67,3.0],[0.68,5.0],[0.69,3.5],[0.70,4.6],[0.71,6.1],[0.72,2.6],[0.73,4.6],[0.74,5.9],[0.75,3.6],[0.76,4.3],[0.77,6.6],[0.78,3.1],[0.79,5.4],[0.80,4.0],[0.81,2.6],[0.82,6.0],[0.83,3.9],[0.84,5.0],[0.85,3.3],[0.86,6.6],[0.87,4.0],[0.89,5.6],[0.91,3.8],[0.44,5.6],[0.41,4.6],[0.37,5.4],[0.35,6.3],[0.30,4.8],[0.26,6.3],[0.19,6.4],[0.14,5.9]];
const vcanMacrophage = [[0.000,6.2],[0.005,3.6],[0.007,1.1],[0.008,4.5],[0.010,1.7],[0.012,3.0],[0.014,4.2],[0.015,2.4],[0.017,3.6],[0.018,5.0],[0.019,2.9],[0.020,4.0],[0.021,1.6],[0.022,3.3],[0.023,5.4],[0.024,2.6],[0.025,1.1],[0.026,4.3],[0.027,3.0],[0.028,6.1],[0.029,2.1],[0.030,4.8],[0.031,3.6],[0.032,5.6],[0.033,2.6],[0.034,4.2],[0.035,6.4],[0.036,3.3],[0.037,5.0],[0.038,2.2],[0.039,4.5],[0.040,6.9],[0.041,3.6],[0.042,5.5],[0.043,4.0],[0.044,6.2],[0.045,2.8],[0.046,5.2],[0.047,7.1],[0.048,4.4],[0.049,5.9],[0.050,3.5],[0.052,6.6],[0.053,4.8],[0.055,7.5],[0.056,5.6],[0.058,3.9],[0.060,6.3],[0.062,7.6],[0.064,5.1],[0.066,6.8],[0.068,4.2],[0.070,6.0],[0.072,7.3],[0.075,5.4],[0.078,6.6],[0.080,8.1],[0.083,5.9],[0.086,7.0],[0.090,8.1],[0.093,6.3],[0.097,7.4],[0.100,5.6],[0.105,6.9],[0.110,7.7],[0.115,6.2],[0.120,5.8],[0.125,4.7],[0.130,7.0],[0.140,6.0],[0.150,7.4],[0.155,6.6],[0.165,2.6],[0.175,7.0],[0.185,6.3],
  [0.015,3.0],[0.017,4.6],[0.019,2.3],[0.021,3.9],[0.022,2.9],[0.024,4.6],[0.025,3.4],[0.026,2.0],[0.027,4.9],[0.028,3.6],[0.029,4.4],[0.030,2.6],[0.031,5.3],[0.032,3.9],[0.033,4.6],[0.034,3.0],[0.035,5.0],[0.036,4.2],[0.037,6.0],[0.038,3.6],[0.039,5.1],[0.040,4.0],[0.041,5.9],[0.042,3.1],[0.043,5.0],[0.044,4.5],[0.045,6.6],[0.046,4.0],[0.047,5.5],[0.048,6.4],[0.049,3.8],[0.050,5.2],[0.051,6.0],[0.052,4.4],[0.054,5.8],[0.055,4.9],[0.057,6.6],[0.059,5.0],[0.061,5.8],[0.063,4.6],[0.065,6.2],[0.067,7.0],[0.069,5.4],[0.072,6.2],[0.075,4.6],[0.079,7.0],[0.084,6.4],[0.092,6.9],[0.102,6.4],[0.113,6.9]];

// loess fits [infiltration, fit, half width of the grey band]
const cdaPurityFit = [[0.10,4.45,1.1],[0.2,5.1,0.6],[0.3,5.45,0.45],[0.38,5.55,0.4],[0.5,5.0,0.35],[0.6,4.8,0.3],[0.7,4.6,0.3],[0.8,4.35,0.35],[0.88,3.9,0.6],[0.93,3.1,1.0]];
const cdaMacrophageFit = [[0,8.2,2.3],[0.01,6.6,1.3],[0.02,5.5,0.7],[0.03,4.8,0.45],[0.04,4.3,0.35],[0.05,4.05,0.35],[0.06,4.0,0.35],[0.07,4.3,0.4],[0.085,4.6,0.45],[0.1,4.6,0.5],[0.12,4.4,0.6],[0.14,4.0,0.8],[0.16,3.6,1.1],[0.185,3.0,1.6]];
const cxcl1PurityFit = [[0.1,7.6,1.3],[0.2,7.0,0.8],[0.3,6.5,0.5],[0.4,6.25,0.4],[0.5,6.3,0.35],[0.58,6.0,0.3],[0.65,5.9,0.3],[0.75,6.05,0.3],[0.85,5.95,0.45],[0.93,5.6,0.8]];
const cxcl1MacrophageFit = [[0,5.6,0.9],[0.015,6.1,0.5],[0.03,6.45,0.35],[0.045,6.4,0.35],[0.06,5.7,0.4],[0.075,5.3,0.45],[0.1,5.35,0.6],[0.13,5.6,0.9],[0.16,5.9,1.3],[0.185,6.15,1.8]];
const igfbp3PurityFit = [[0.1,6.4,0.9],[0.2,6.65,0.5],[0.35,6.8,0.35],[0.5,6.85,0.3],[0.65,6.8,0.3],[0.78,6.9,0.35],[0.86,6.65,0.5],[0.93,6.1,0.9]];
const igfbp3MacrophageFit = [[0,5.2,1.7],[0.015,5.7,0.8],[0.03,6.6,0.4],[0.04,7.05,0.35],[0.05,7.1,0.35],[0.06,6.95,0.35],[0.075,7.0,0.4],[0.09,7.25,0.45],[0.11,7.5,0.55],[0.135,7.6,0.75],[0.16,7.55,1.1],[0.185,7.4,1.5]];
const mmp3PurityFit = [[0.1,6.1,1.6],[0.2,5.6,0.9],[0.3,5.3,0.6],[0.4,5.0,0.45],[0.5,4.7,0.4],[0.6,4.6,0.35],[0.65,4.3,0.35],[0.7,3.9,0.35],[0.8,3.9,0.45],[0.93,4.35,1.0]];
const mmp3MacrophageFit = [[0,2.3,1.7],[0.015,3.6,0.8],[0.03,4.4,0.45],[0.045,4.6,0.4],[0.06,4.5,0.4],[0.08,4.35,0.5],[0.1,4.55,0.55],[0.12,4.6,0.7],[0.14,4.0,1.0],[0.16,2.8,1.6],[0.185,1.0,2.6]];
const mmp11PurityFit = [[0.09,6.5,1.5],[0.2,6.4,0.8],[0.3,6.2,0.55],[0.4,5.9,0.45],[0.5,5.65,0.4],[0.58,5.6,0.4],[0.65,5.95,0.4],[0.72,6.3,0.45],[0.8,6.05,0.5],[0.93,6.05,1.0]];
const mmp11MacrophageFit = [[0,4.55,1.3],[0.015,4.55,0.7],[0.03,5.0,0.45],[0.045,5.8,0.4],[0.06,6.6,0.4],[0.08,7.1,0.45],[0.1,7.35,0.5],[0.115,7.45,0.6],[0.135,7.2,0.9],[0.16,6.2,1.6],[0.185,4.85,2.6]];
const plauPurityFit = [[0.09,6.85,0.95],[0.2,6.75,0.55],[0.3,6.6,0.35],[0.4,6.45,0.3],[0.5,6.3,0.25],[0.6,6.2,0.25],[0.7,6.35,0.25],[0.8,6.1,0.3],[0.93,5.95,0.6]];
const plauMacrophageFit = [[0,6.1,0.75],[0.02,5.9,0.4],[0.035,6.1,0.3],[0.05,6.45,0.25],[0.07,6.6,0.3],[0.1,6.7,0.4],[0.12,6.6,0.55],[0.14,6.15,0.8],[0.16,5.6,1.1],[0.185,4.8,1.5]];
const serpine1PurityFit = [[0.09,7.15,1.0],[0.2,7.3,0.6],[0.3,7.1,0.4],[0.4,6.8,0.35],[0.5,6.55,0.3],[0.6,6.5,0.3],[0.66,6.6,0.3],[0.75,6.0,0.35],[0.85,5.5,0.5],[0.93,5.05,0.8]];
const serpine1MacrophageFit = [[0,6.35,1.3],[0.015,6.0,0.7],[0.025,5.9,0.45],[0.04,6.2,0.35],[0.055,6.6,0.35],[0.065,6.65,0.35],[0.075,6.35,0.4],[0.09,6.45,0.45],[0.12,7.0,0.6],[0.15,7.45,0.85],[0.185,7.45,1.3]];
const spp1PurityFit = [[0.09,7.8,2.0],[0.2,6.8,1.1],[0.3,6.2,0.7],[0.4,6.0,0.55],[0.5,6.2,0.5],[0.6,6.5,0.5],[0.7,6.85,0.5],[0.8,6.5,0.6],[0.93,6.0,1.2]];
const spp1MacrophageFit = [[0,5.8,1.7],[0.012,5.35,0.9],[0.022,5.1,0.6],[0.035,5.7,0.5],[0.05,6.8,0.5],[0.065,7.5,0.55],[0.08,7.9,0.6],[0.1,8.0,0.7],[0.12,7.85,0.85],[0.14,7.3,1.2],[0.16,6.3,1.8],[0.185,4.5,2.9]];
const vcanPurityFit = [[0.09,5.9,0.9],[0.2,5.6,0.5],[0.3,5.2,0.35],[0.4,4.85,0.3],[0.5,4.8,0.25],[0.6,4.95,0.25],[0.68,5.1,0.25],[0.76,4.85,0.3],[0.83,4.7,0.35],[0.93,5.25,0.75]];
const vcanMacrophageFit = [[0,3.45,0.7],[0.015,3.5,0.4],[0.03,3.95,0.3],[0.045,4.75,0.25],[0.06,5.4,0.25],[0.08,5.8,0.3],[0.1,6.05,0.35],[0.12,6.25,0.45],[0.14,6.35,0.55],[0.16,6.25,0.7],[0.185,6.05,0.95]];

const facetPoints = [
  [cdaPurity, cdaMacrophage], [cxcl1Purity, cxcl1Macrophage], [igfbp3Purity, igfbp3Macrophage],
  [mmp3Purity, mmp3Macrophage], [mmp11Purity, mmp11Macrophage], [plauPurity, plauMacrophage],
  [serpine1Purity, serpine1Macrophage], [spp1Purity, spp1Macrophage], [vcanPurity, vcanMacrophage]
];
const facetFits = [
  [cdaPurityFit, cdaMacrophageFit], [cxcl1PurityFit, cxcl1MacrophageFit], [igfbp3PurityFit, igfbp3MacrophageFit],
  [mmp3PurityFit, mmp3MacrophageFit], [mmp11PurityFit, mmp11MacrophageFit], [plauPurityFit, plauMacrophageFit],
  [serpine1PurityFit, serpine1MacrophageFit], [spp1PurityFit, spp1MacrophageFit], [vcanPurityFit, vcanMacrophageFit]
];

// ---- page layout (pixels) ----
const layout = [
  { esca:37,  px0:49,  px1:152, mx0:155, mx1:260, y0:29,  y1:130, yt:18,  lx:2,   ly:3 },
  { esca:308, px0:320, px1:422, mx0:425, mx1:525, y0:29,  y1:130, yt:290, lx:268, ly:3 },
  { esca:578, px0:589, px1:691, mx0:694, mx1:793, y0:29,  y1:130, yt:558, lx:534, ly:3 },
  { esca:35,  px0:46,  px1:152, mx0:155, mx1:260, y0:204, y1:305, yt:23,  lx:3,   ly:176 },
  { esca:310, px0:322, px1:422, mx0:427, mx1:527, y0:204, y1:305, yt:293, lx:275, ly:176 },
  { esca:573, px0:585, px1:688, mx0:692, mx1:793, y0:204, y1:305, yt:558, lx:543, ly:177 },
  { esca:38,  px0:49,  px1:152, mx0:156, mx1:262, y0:378, y1:478, yt:24,  lx:7,   ly:349 },
  { esca:312, px0:323, px1:424, mx0:427, mx1:529, y0:378, y1:478, yt:293, lx:278, ly:349 },
  { esca:572, px0:583, px1:687, mx0:692, mx1:795, y0:378, y1:478, yt:560, lx:550, ly:350 }
];

const FONT = "'Liberation Sans', Arial, sans-serif";
const fig = document.getElementById('fig');

function tickSet(labels, range){
  const major = labels.map(Number);
  const step = major[1] - major[0];
  const minor = major.map(v => v - step / 2).concat([major[major.length - 1] + step / 2]);
  const all = major.concat(minor).filter(v => v > range[0] && v < range[1]).sort((a, b) => a - b);
  return { major, all };
}
function isMajor(set, v){ return set.major.some(m => Math.abs(m - v) < 1e-9); }
function labelFor(labels, v){
  const i = labels.map(Number).findIndex(m => Math.abs(m - v) < 1e-9);
  return i < 0 ? '' : labels[i];
}

// panel border drawn round the chart area
const frame = {
  id:'frame',
  afterDatasetsDraw(chart){
    const { ctx, chartArea:a } = chart;
    ctx.save();
    ctx.strokeStyle = '#444';
    ctx.lineWidth = 1;
    ctx.strokeRect(Math.round(a.left) + 0.5, Math.round(a.top) + 0.5, Math.round(a.right - a.left) - 1, Math.round(a.bottom - a.top) - 1);
    ctx.restore();
  }
};

function addDiv(cls, text, style){
  const d = document.createElement('div');
  d.className = cls;
  if (text !== null) d.textContent = text;
  Object.assign(d.style, style);
  fig.appendChild(d);
  return d;
}

function facetChart(p, f){
  const L = layout[p];
  const pur = f === 0;
  const x0 = pur ? L.px0 : L.mx0;
  const x1 = pur ? L.px1 : L.mx1;
  const left = pur ? L.esca - 16 : x0 - 4;
  const padL = pur ? 0 : 4;
  const yW = pur ? x0 - left : 0;
  const padR = 4, padT = 4, xH = 12, padB = 2;
  const w = x1 - left + padR;
  const h = (L.y1 - L.y0) + padT + xH + padB;

  const cv = document.createElement('canvas');
  cv.width = w; cv.height = h;
  cv.style.left = left + 'px'; cv.style.top = (L.y0 - padT) + 'px';
  cv.style.width = w + 'px'; cv.style.height = h + 'px';
  fig.appendChild(cv);

  const xLabels = pur ? purityXTicks : macrophageXTicks;
  const xRange = pur ? purityXRange : macrophageXRange;
  const xs = tickSet(xLabels, xRange);
  const ys = tickSet(yTickLabels[p], yRanges[p]);
  const fit = facetFits[p][f];
  const stripW = L.px0 - L.esca;

  new Chart(cv, {
    type:'line',
    data:{ datasets:[
      { data: fit.map(r => ({x:r[0], y:r[1]})), borderColor:'#3366FF', borderWidth:1.3, pointRadius:0, cubicInterpolationMode:'monotone', fill:false, order:0 },
      { data: fit.map(r => ({x:r[0], y:r[1] + r[2]})), borderWidth:0, borderColor:'rgba(0,0,0,0)', backgroundColor:'rgba(153,153,153,0.4)', pointRadius:0, cubicInterpolationMode:'monotone', fill:2, order:1 },
      { data: fit.map(r => ({x:r[0], y:r[1] - r[2]})), borderWidth:0, borderColor:'rgba(0,0,0,0)', pointRadius:0, cubicInterpolationMode:'monotone', fill:false, order:2 },
      { data: facetPoints[p][f].map(r => ({x:r[0], y:r[1]})), showLine:false, pointRadius:1.6, pointBackgroundColor:'#1c1c1c', pointBorderWidth:0, pointHoverRadius:0, order:3 }
    ]},
    options:{
      responsive:false, animation:false, events:[],
      layout:{ autoPadding:false, padding:{ left:padL, right:padR, top:padT, bottom:padB } },
      plugins:{ legend:{ display:false }, tooltip:{ enabled:false } },
      scales:{
        x:{
          type:'linear', min:xRange[0], max:xRange[1],
          afterFit: s => { s.height = xH; },
          afterBuildTicks: s => { s.ticks = xs.all.map(v => ({ value:v })); },
          border:{ display:false },
          grid:{ color: c => isMajor(xs, c.tick.value) ? '#e4e4e4' : '#f1f1f1', lineWidth:1, tickLength:2,
                 tickColor: c => isMajor(xs, c.tick.value) ? '#444' : 'rgba(0,0,0,0)' },
          ticks:{ autoSkip:false, maxRotation:0, padding:1, color:'#4d4d4d', font:{ size:5.5, family:FONT },
                  callback: v => labelFor(xLabels, v) }
        },
        y:{
          type:'linear', min:yRanges[p][0], max:yRanges[p][1],
          afterFit: s => { s.width = yW; },
          afterBuildTicks: s => { s.ticks = ys.all.map(v => ({ value:v })); },
          border:{ display:false },
          grid:{ color: c => isMajor(ys, c.tick.value) ? '#e4e4e4' : '#f1f1f1', lineWidth:1,
                 drawTicks:pur, tickLength:stripW + 2,
                 tickColor: c => isMajor(ys, c.tick.value) ? '#444' : 'rgba(0,0,0,0)' },
          ticks:{ display:pur, autoSkip:false, padding:1.5, color:'#4d4d4d', font:{ size:5.5, family:FONT },
                  callback: v => labelFor(yTickLabels[p], v) }
        }
      }
    },
    plugins:[frame]
  });

  // facet strip
  addDiv('strip', facetNames[f], { left:x0 + 'px', top:(L.y0 - 11) + 'px', width:(x1 - x0) + 'px', height:'12px' });

  // correlation text
  const txt = pur ? ['cor = ' + corValues[p], 'p = ' + corP[p]] : ['partial.cor = ' + partialValues[p], 'p = ' + partialP[p]];
  const st = addDiv('lbl stat', null, { left:(x1 - 4 - 120) + 'px', width:'120px', top:(L.y0 + 1.3) + 'px' });
  st.innerHTML = txt[0] + '<br>' + txt[1];
}

layout.forEach((L, p) => {
  facetChart(p, 0);
  facetChart(p, 1);

  const es = addDiv('strip', null, { left:L.esca + 'px', top:L.y0 + 'px', width:(L.px0 - L.esca + 1) + 'px', height:(L.y1 - L.y0) + 'px' });
  const sp = document.createElement('span');
  sp.className = 'rot'; sp.textContent = 'ESCA';
  es.appendChild(sp);

  addDiv('lbl letter', panelLetters[p], { left:L.lx + 'px', top:L.ly + 'px' });

  // rotated title, centred on whole pixels so it stays sharp
  const cy = Math.round((L.y0 + L.y1) / 2);
  addDiv('lbl ytitle', geneNames[p] + ' Expression Level (log2 TPM)', {
    left:(L.yt - 70) + 'px', top:(cy - 4) + 'px', width:'140px'
  });
  addDiv('lbl xtitle', 'Infiltration Level', {
    left:(Math.round((L.px0 + L.mx1) / 2) - 50) + 'px', top:(L.y1 + 10) + 'px', width:'100px'
  });
});
</script>
</body>
</html>
